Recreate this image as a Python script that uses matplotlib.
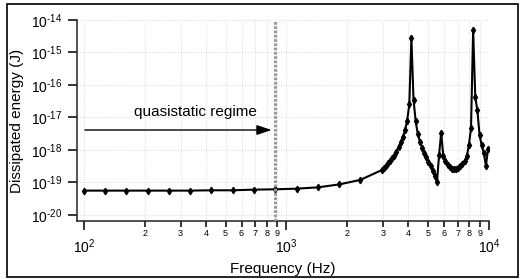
import numpy as np
import matplotlib
matplotlib.use('Agg')
import matplotlib.pyplot as plt
from matplotlib.ticker import FixedLocator, FixedFormatter, NullFormatter
from matplotlib.patches import Rectangle

plt.rcParams['font.family'] = ['Liberation Sans', 'DejaVu Sans']
plt.rcParams['mathtext.fontset'] = 'custom'
plt.rcParams['mathtext.rm'] = 'Liberation Sans'
plt.rcParams['mathtext.it'] = 'Liberation Sans:italic'

# frequency sweep (Hz), coarse part then fine part near the resonances
freq = [100, 127, 162, 207, 263, 335, 426, 543, 691, 880,
        1121, 1428, 1818, 2316, 2949,
        3021, 3095, 3171, 3249, 3329, 3410, 3493, 3579, 3667, 3756,
        3848, 3943, 4040, 4138, 4240, 4344, 4450, 4559, 4671, 4785,
        4902, 5022, 5146, 5272, 5401, 5533, 5669, 5807, 5950, 6096,
        6245, 6398, 6555, 6716, 6880, 7048, 7221, 7398, 7579, 7765,
        7955, 8150, 8350, 8555, 8764, 8979, 9199, 9425, 9655, 9891]

# log10 of dissipated energy (J)
log10_energy = [-19.25, -19.25, -19.25, -19.25, -19.25, -19.25, -19.24, -19.24, -19.22, -19.21,
                -19.19, -19.15, -19.06, -18.92, -18.62,
                -18.55, -18.48, -18.41, -18.34, -18.26, -18.17, -18.05, -17.92, -17.76, -17.6,
                -17.4, -17.1, -16.6, -14.56, -16.45, -17.12, -17.5, -17.75, -17.93, -18.08,
                -18.22, -18.36, -18.5, -18.64, -18.8, -19.0, -18.15, -17.47, -18.2, -18.35,
                -18.45, -18.53, -18.58, -18.6, -18.59, -18.56, -18.5, -18.44, -18.35, -18.2,
                -17.85, -17.33, -14.3, -16.38, -16.78, -17.54, -17.85, -18.1, -18.48, -17.98]

quasistatic_limit = 880  # Hz, dotted line
arrow_start, arrow_end, arrow_level = 101, 845, -17.385

major_x = [100, 1000, 10000]
major_x_labels = [r'$\mathregular{10^{2}}$', r'$\mathregular{10^{3}}$', r'$\mathregular{10^{4}}$']
minor_x = [200, 300, 400, 500, 600, 700, 800, 900,
           2000, 3000, 4000, 5000, 6000, 7000, 8000, 9000]
minor_x_labels = ['2', '3', '4', '5', '6', '7', '8', '9'] * 2
y_exponents = [-20, -19, -18, -17, -16, -15, -14]

energy = 10.0 ** np.array(log10_energy)

fig = plt.figure(figsize=(5.2, 2.79), dpi=100)
ax = fig.add_axes([77 / 520, 58 / 279, 412 / 520, 201 / 279])

ax.plot(freq, energy, color='black', lw=1.5, marker='d', ms=3.3, zorder=3)
ax.axvline(quasistatic_limit, color='#9a9a9a', lw=2.2, ls=(0, (0.9, 0.5)), zorder=4)

ax.annotate('', xy=(arrow_end, 10 ** arrow_level), xytext=(arrow_start, 10 ** arrow_level),
            arrowprops=dict(arrowstyle='-|>,head_length=0.9,head_width=0.3',
                            color='black', lw=1.0, shrinkA=0, shrinkB=0))
ax.text(356, 10 ** -16.83, 'quasistatic regime', fontsize=11, ha='center', va='center')

ax.set_xscale('log')
ax.set_yscale('log')
ax.set_xlim(92.4, 10000)
ax.set_ylim(10 ** -20.185, 1e-14)

ax.xaxis.set_major_locator(FixedLocator(major_x))
ax.xaxis.set_major_formatter(FixedFormatter(major_x_labels))
ax.xaxis.set_minor_locator(FixedLocator(minor_x))
ax.xaxis.set_minor_formatter(FixedFormatter(minor_x_labels))
ax.yaxis.set_major_locator(FixedLocator([10.0 ** e for e in y_exponents]))
ax.yaxis.set_major_formatter(FixedFormatter(
    [r'$\mathregular{10^{\text{-}%d}}$' % -e for e in y_exponents]))
ax.yaxis.set_minor_locator(FixedLocator([]))
ax.yaxis.set_minor_formatter(NullFormatter())

ax.tick_params(axis='x', which='major', direction='out', length=6.5, width=1.1,
               labelsize=10, pad=5)
ax.tick_params(axis='x', which='minor', direction='out', length=4.3, width=1.1,
               labelsize=6.5, pad=1.5)
ax.tick_params(axis='y', which='major', direction='out', length=6.5, width=1.1,
               labelsize=10, pad=4)

for side in ['top', 'right']:
    ax.spines[side].set_visible(False)
for side in ['left', 'bottom']:
    ax.spines[side].set_linewidth(1.1)
    ax.spines[side].set_color('#222222')

ax.grid(True, which='major', axis='both', color='#d8d8d8', lw=0.7, ls=':')
ax.grid(True, which='minor', axis='x', color='#d8d8d8', lw=0.7, ls=':')
ax.set_axisbelow(True)

ax.set_xlabel('Frequency (Hz)', fontsize=11)
ax.set_ylabel('Dissipated energy (J)', fontsize=11)
ax.xaxis.set_label_coords(0.5, -0.205)
ax.yaxis.set_label_coords(-0.128, 0.5)

fig.patches.append(Rectangle((7 / 520, 2 / 279), 511 / 520, 273 / 279,
                             transform=fig.transFigure, fill=False,
                             edgecolor='black', lw=1.2))

fig.savefig('out.png', dpi=100)
